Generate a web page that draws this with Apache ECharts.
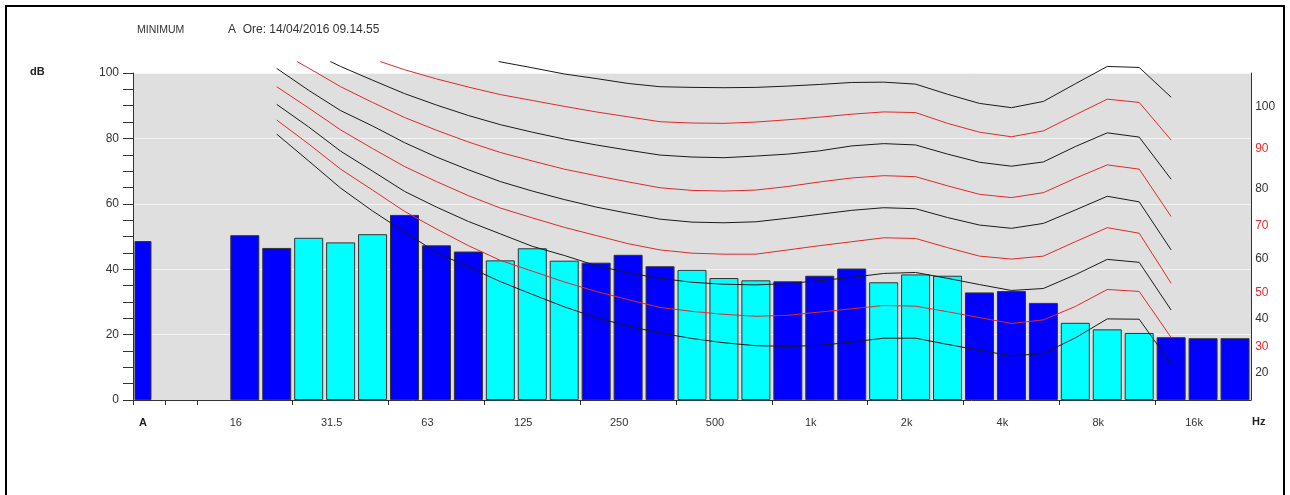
<!DOCTYPE html>
<html>
<head>
<meta charset="utf-8">
<title>Spettro - MINIMUM</title>
<script src="https://cdn.jsdelivr.net/npm/echarts@6/dist/echarts.min.js"></script>
<style>
  html, body { margin: 0; padding: 0; background: #fff; }
  #chart { width: 1290px; height: 495px; }
</style>
</head>
<body>
<div id="chart"></div>
<script>
"use strict";

// bande 1/3 ottava (A = livello globale ponderato)
var bands = ['A', '', '12.5', '16', '20', '25', '31.5', '40', '50', '63', '80', '100', '125', '160',
  '200', '250', '315', '400', '500', '630', '800', '1k', '1.25k', '1.6k', '2k', '2.5k', '3.15k',
  '4k', '5k', '6.3k', '8k', '10k', '12.5k', '16k', '20k'];
var octaveLabels = ['A', '16', '31.5', '63', '125', '250', '500', '1k', '2k', '4k', '8k', '16k'];

// livelli misurati dB
var levelA = 48.6;
var levels = [null, null, null, 50.4, 46.5, 49.6, 48.2, 50.7, 56.6, 47.3, 45.4, 42.7, 46.4, 42.6,
  42.0, 44.4, 40.9, 39.8, 37.3, 36.6, 36.3, 38.0, 40.2, 36.0, 38.4, 38.0, 32.9,
  33.3, 29.7, 23.6, 21.6, 20.5, 19.2, 18.9, 18.9];

// curve NR, valori dalla banda 20 Hz (indice 4) alla 12.5k (indice 32)
var curveFirst = 4;
var nrLabels = ['100', '90', '80', '70', '60', '50', '40', '30', '20'];
// punto dove la curva entra dall'alto (posizione banda, dB)
var nrEntry = [[10.95, 103.5], [7.24, 103.5], [5.68, 103.5], [4.63, 103.5], null, null, null, null, null];
var nr100 = [null, null, null, null, null, null, null, null, 101.6, 99.7, 98.3, 96.8, 95.8, 95.6, 95.5,
  95.6, 96.0, 96.5, 97.1, 97.2, 96.6, 93.5, 90.7, 89.4, 91.3, 96.7, 102.0, 101.7, 92.6];
var nr90 = [null, null, null, null, 101.0, 98.2, 95.7, 93.4, 91.6, 89.8, 88.1, 86.6, 85.1, 84.7, 84.6,
  85.0, 85.7, 86.5, 87.4, 88.1, 87.9, 84.6, 81.9, 80.5, 82.3, 87.2, 92.0, 91.0, 79.5];
var nr80 = [null, null, 102.0, 97.8, 93.7, 90.2, 87.0, 84.2, 81.9, 79.8, 78.0, 76.4, 74.9, 74.3, 74.1,
  74.6, 75.2, 76.2, 77.7, 78.4, 78.0, 75.2, 72.7, 71.5, 72.8, 77.5, 81.7, 80.4, 67.5];
var nr70 = [null, 101.5, 95.8, 91.0, 86.4, 82.5, 78.9, 75.7, 73.1, 70.6, 68.6, 66.7, 64.9, 64.1, 63.9,
  64.2, 65.3, 66.7, 67.9, 68.6, 68.3, 65.5, 62.9, 61.9, 63.4, 67.8, 71.9, 70.6, 56.1];
var nr60 = [101.4, 94.7, 88.5, 83.8, 78.7, 74.3, 70.4, 66.8, 63.9, 61.3, 59.0, 57.1, 55.3, 54.4, 54.2,
  54.5, 55.6, 56.8, 58.0, 58.8, 58.5, 55.8, 53.5, 52.5, 54.0, 58.1, 62.3, 60.6, 45.9];
var nr50 = [95.8, 89.3, 82.6, 76.9, 71.4, 66.8, 62.5, 58.7, 55.7, 52.8, 50.3, 47.8, 45.9, 44.9, 44.6,
  44.6, 45.9, 47.2, 48.4, 49.6, 49.4, 46.6, 44.0, 43.1, 44.0, 48.4, 52.7, 51.0, 35.7];
var nr40 = [90.4, 83.5, 76.1, 70.0, 63.8, 59.0, 54.6, 50.8, 47.0, 44.2, 41.1, 38.9, 37.2, 36.0, 35.4,
  35.2, 35.6, 36.5, 37.5, 38.7, 39.0, 37.2, 35.3, 33.5, 34.1, 38.3, 43.0, 42.1, 27.5];
var nr30 = [85.6, 78.3, 70.6, 64.2, 57.7, 52.3, 47.2, 42.7, 39.4, 36.1, 33.2, 30.7, 28.3, 27.1, 26.2,
  25.6, 25.9, 26.9, 27.9, 28.9, 28.7, 27.0, 25.2, 23.4, 24.5, 28.6, 33.8, 33.2, 19.1];
var nr20 = [81.3, 73.1, 64.8, 57.8, 51.4, 45.1, 40.7, 36.2, 32.3, 28.5, 25.2, 22.6, 20.5, 18.8, 17.5,
  16.6, 16.4, 16.7, 17.7, 18.9, 18.9, 17.0, 15.2, 13.5, 14.2, 19.0, 24.8, 24.7, 11.0];
var nrCurves = [nr100, nr90, nr80, nr70, nr60, nr50, nr40, nr30, nr20];

var BLUE = '#0000ff';
var CYAN = '#00ffff';
var RED = '#e02a2a';

// colore alternato per ottava
function bandColor(i) {
  if (i < 2) return BLUE;
  return Math.floor((i - 2) / 3) % 2 === 0 ? BLUE : CYAN;
}

// tacche asse x: A, vuoto, poi ogni ottava
var tickAt = [0, 1, 2];
for (var t = 5; t < bands.length; t += 3) tickAt.push(t);

var chart = echarts.init(document.getElementById('chart'));

var series = [{
  name: 'A',
  type: 'bar',
  barWidth: 17,
  barGap: '-100%',
  data: bands.map(function(b, i) { return i === 0 ? levelA : null; }),
  itemStyle: { color: BLUE, borderColor: '#333', borderWidth: 1 },
  silent: true
}, {
  name: 'livelli',
  type: 'bar',
  barWidth: 29,
  barGap: '-100%',
  data: levels.map(function(v, i) {
    return v == null ? null : { value: v, itemStyle: { color: bandColor(i) } };
  }),
  itemStyle: { borderColor: '#333', borderWidth: 1 },
  silent: true
}];

nrCurves.forEach(function(vals, k) {
  var isRed = k % 2 === 1;
  var data = [];
  if (nrEntry[k]) data.push([nrEntry[k][0] + 0.5, nrEntry[k][1]]);
  vals.forEach(function(v, j) {
    if (v != null) data.push([curveFirst + j + 0.5, v]);
  });
  series.push({
    name: nrLabels[k],
    type: 'line',
    xAxisIndex: 1,
    symbol: 'none',
    clip: false,
    silent: true,
    z: 5,
    data: data,
    lineStyle: { width: 1, color: isRed ? RED : '#1a1a1a' },
    endLabel: {
      show: true,
      formatter: function(p) { return p.seriesName; },
      offset: [76, 9],
      fontFamily: 'Liberation Sans',
      fontSize: 12,
      color: isRed ? RED : '#333'
    }
  });
});

var option = {
  animation: false,
  backgroundColor: '#fff',
  grid: {
    left: 133, right: 39, top: 73, bottom: 95,
    show: true, backgroundColor: '#dfdfdf', borderWidth: 0
  },
  xAxis: [{
    type: 'category',
    data: bands,
    boundaryGap: true,
    axisLine: { lineStyle: { color: '#333', width: 1 } },
    axisTick: { show: false },
    axisLabel: {
      interval: function(i, v) { return octaveLabels.indexOf(v) >= 0; },
      margin: 17,
      padding: [0, 18, 0, 0],
      fontFamily: 'Liberation Sans',
      fontSize: 11,
      color: '#333',
      formatter: function(v) { return v === 'A' ? '{b|A}' : v; },
      rich: { b: { fontWeight: 'bold', fontSize: 11, color: '#222', fontFamily: 'Liberation Sans', padding: [0, 0, 0, 6] } }
    },
    splitLine: { show: false }
  }, {
    type: 'value',
    min: 0,
    max: bands.length,
    position: 'bottom',
    axisLine: { show: false },
    axisLabel: { show: false },
    splitLine: { show: false },
    axisTick: { show: true, length: 5, customValues: tickAt, lineStyle: { color: '#333' } }
  }],
  yAxis: [{
    type: 'value',
    min: 0,
    max: 100,
    interval: 20,
    axisLine: { show: true, lineStyle: { color: '#333' } },
    axisTick: { show: true, length: 10, lineStyle: { color: '#333' } },
    minorTick: { show: true, splitNumber: 4, length: 10, lineStyle: { color: '#333' } },
    axisLabel: { margin: 14, fontFamily: 'Liberation Sans', fontSize: 12, color: '#333' },
    splitLine: { show: true, lineStyle: { color: '#f4f4f4', width: 1 } }
  }, {
    type: 'value',
    position: 'right',
    min: 0,
    max: 100,
    axisLine: { show: true, lineStyle: { color: '#333' } },
    axisTick: { show: false },
    axisLabel: { show: false },
    splitLine: { show: false }
  }],
  graphic: [
    { type: 'rect', shape: { x: 6, y: 6, width: 1278, height: 520 },
      style: { fill: 'none', stroke: '#000', lineWidth: 2 }, silent: true },
    { type: 'text', left: 137, top: 25,
      style: { text: 'MINIMUM', fontFamily: 'Liberation Sans', fontSize: 10.5, fill: '#333' } },
    { type: 'text', left: 228, top: 24,
      style: { text: 'A  Ore: 14/04/2016 09.14.55', fontFamily: 'Liberation Sans', fontSize: 12, fill: '#333' } },
    { type: 'text', left: 30, top: 66,
      style: { text: 'dB', fontFamily: 'Liberation Sans', fontSize: 11, fontWeight: 'bold', fill: '#222' } },
    { type: 'text', left: 1252, top: 416,
      style: { text: 'Hz', fontFamily: 'Liberation Sans', fontSize: 11, fontWeight: 'bold', fill: '#222' } }
  ],
  series: series
};

chart.setOption(option);
</script>
</body>
</html>
